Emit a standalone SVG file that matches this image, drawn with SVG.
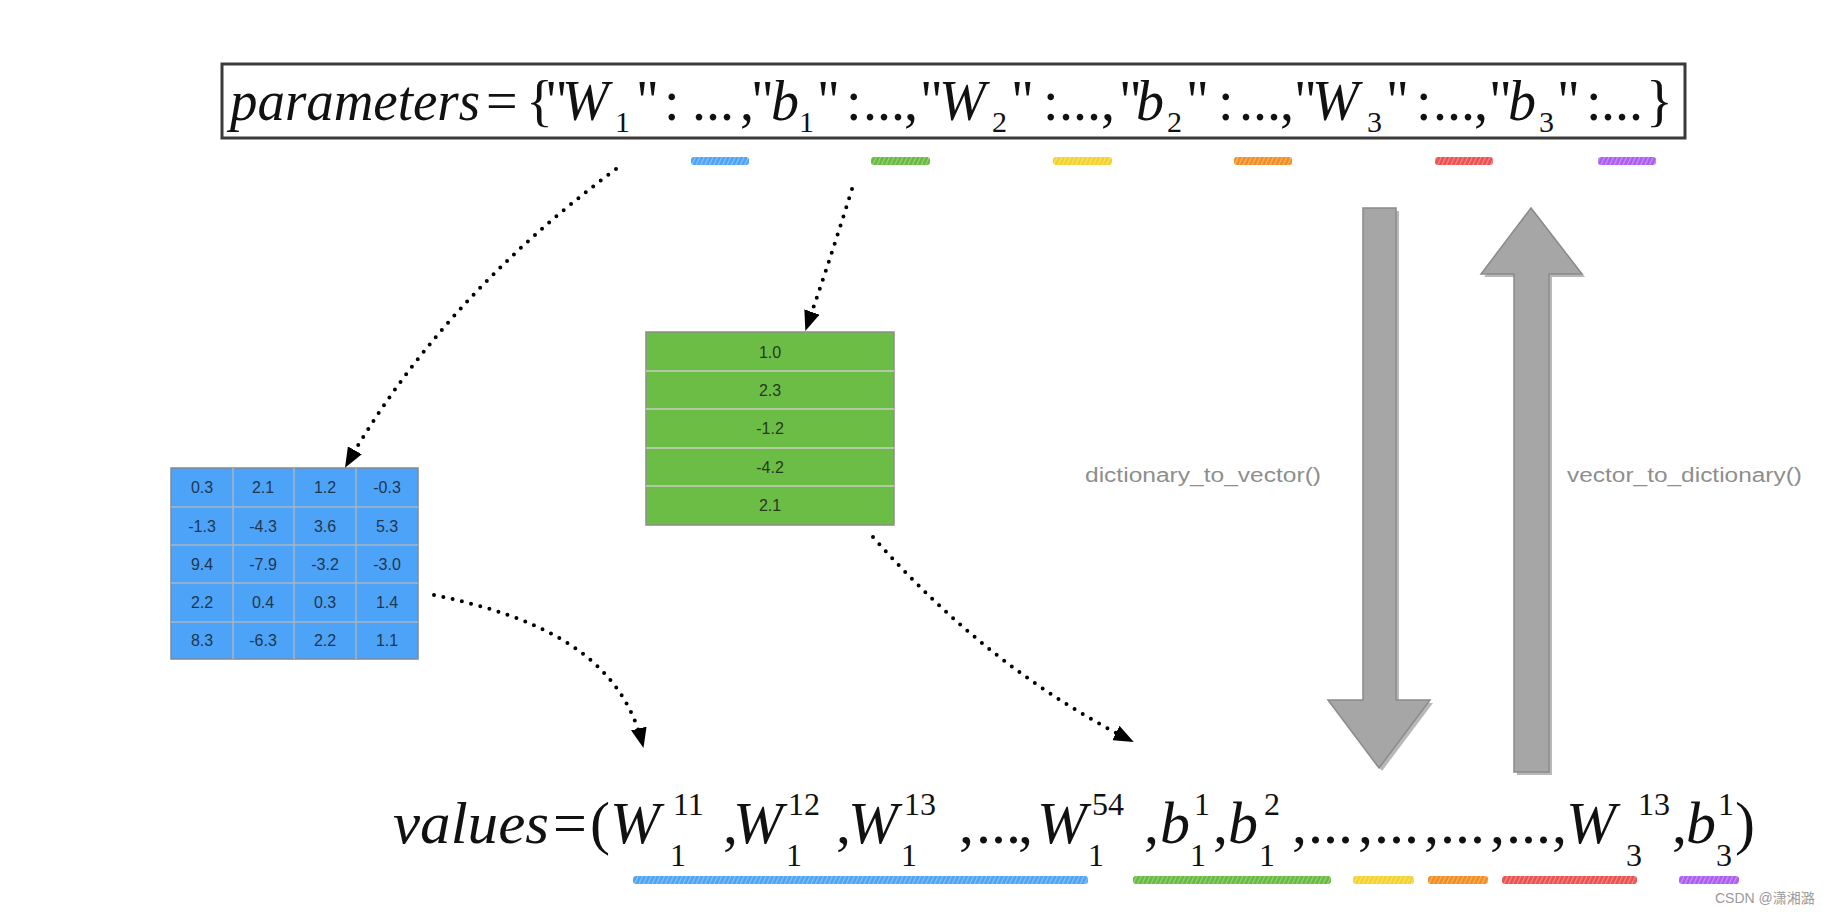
<svg xmlns="http://www.w3.org/2000/svg" width="1829" height="915" viewBox="0 0 1829 915">
<style>
.m{font-family:"Liberation Serif","Times New Roman",serif;fill:#111}
.i{font-style:italic}
.p{font-size:56px}
.v{font-size:60px}
.s{font-size:30px}
.ss{font-size:32px}
.cell{font-family:"Liberation Sans",Arial,sans-serif;font-size:16px;text-anchor:middle}
.bt{fill:#1f3650}
.gt{fill:#27391d}
.lbl{font-family:"Liberation Sans",Arial,sans-serif;font-size:20px;fill:#8e8e8e}
.dots{fill:none;stroke:#000;stroke-width:4;stroke-linecap:round;stroke-dasharray:0 9.5}
.garrow{fill:#a6a6a6;stroke:#8a8a8a;stroke-width:1.5}
.gshadow{fill:#7d7d7d;opacity:0.55}
</style>
<defs>
<marker id="ah" viewBox="0 0 20 16" refX="18" refY="8" markerWidth="20" markerHeight="16" markerUnits="userSpaceOnUse" orient="auto">
<path d="M0,0 L20,8 L0,16 Z" fill="#000"/>
</marker>
<pattern id="scr" width="4" height="10" patternUnits="userSpaceOnUse" patternTransform="rotate(25)">
<rect width="1.2" height="10" fill="#fff" opacity="0.35"/>
</pattern>
</defs>
<rect width="1829" height="915" fill="#fff"/>

<g id="parameters">
<rect x="222" y="64" width="1463" height="74" fill="#fff" stroke="#3a3a3a" stroke-width="3"/>
<text class="m i p" x="230" y="120" textLength="250" lengthAdjust="spacingAndGlyphs">parameters</text>
<text class="m p" y="120">
<tspan x="486">=</tspan><tspan x="526">{</tspan><tspan x="545">"</tspan><tspan class="i" x="562">W</tspan><tspan x="636">"</tspan><tspan x="664">:</tspan><tspan x="692">...</tspan><tspan x="740">,</tspan>
<tspan x="751">"</tspan><tspan class="i" x="771">b</tspan><tspan x="817">"</tspan><tspan x="846">:</tspan><tspan x="863">...</tspan><tspan x="904">,</tspan>
<tspan x="920">"</tspan><tspan class="i" x="939">W</tspan><tspan x="1011">"</tspan><tspan x="1043">:</tspan><tspan x="1059">...</tspan><tspan x="1101">,</tspan>
<tspan x="1119">"</tspan><tspan class="i" x="1136">b</tspan><tspan x="1186">"</tspan><tspan x="1218">:</tspan><tspan x="1239">...</tspan><tspan x="1280">,</tspan>
<tspan x="1294">"</tspan><tspan class="i" x="1312">W</tspan><tspan x="1386">"</tspan><tspan x="1416">:</tspan><tspan x="1433">...</tspan><tspan x="1474">,</tspan>
<tspan x="1489">"</tspan><tspan class="i" x="1508">b</tspan><tspan x="1557">"</tspan><tspan x="1586">:</tspan><tspan x="1601">...</tspan><tspan x="1646">}</tspan>
</text>
<text class="m s" y="132"><tspan x="615">1</tspan><tspan x="799">1</tspan><tspan x="992">2</tspan><tspan x="1167">2</tspan><tspan x="1367">3</tspan><tspan x="1539">3</tspan></text>
</g>

<g id="param-marks">
<rect x="691" y="157" width="58" height="8" rx="3" fill="#4da3f5"/>
<rect x="871" y="157" width="59" height="8" rx="3" fill="#68b93f"/>
<rect x="1053" y="157" width="59" height="8" rx="3" fill="#f3d22a"/>
<rect x="1234" y="157" width="58" height="8" rx="3" fill="#f28d22"/>
<rect x="1435" y="157" width="58" height="8" rx="3" fill="#ec5151"/>
<rect x="1598" y="157" width="58" height="8" rx="3" fill="#ad5cf0"/>
<g fill="url(#scr)">
<rect x="691" y="157" width="58" height="8"/><rect x="871" y="157" width="59" height="8"/><rect x="1053" y="157" width="59" height="8"/><rect x="1234" y="157" width="58" height="8"/><rect x="1435" y="157" width="58" height="8"/><rect x="1598" y="157" width="58" height="8"/>
</g>
</g>

<g id="matrix-W1">
<rect x="171" y="468" width="247" height="191" fill="#4da3f7" stroke="#7f8a96" stroke-width="1.5"/>
<g stroke="#a9b4c0" stroke-width="1.5">
<line x1="233" y1="468" x2="233" y2="659"/><line x1="294" y1="468" x2="294" y2="659"/><line x1="356" y1="468" x2="356" y2="659"/>
<line x1="171" y1="507" x2="418" y2="507"/><line x1="171" y1="545" x2="418" y2="545"/><line x1="171" y1="583" x2="418" y2="583"/><line x1="171" y1="622" x2="418" y2="622"/>
</g>
<g class="cell bt">
<text x="202" y="493">0.3</text><text x="263" y="493">2.1</text><text x="325" y="493">1.2</text><text x="387" y="493">-0.3</text>
<text x="202" y="532">-1.3</text><text x="263" y="532">-4.3</text><text x="325" y="532">3.6</text><text x="387" y="532">5.3</text>
<text x="202" y="570">9.4</text><text x="263" y="570">-7.9</text><text x="325" y="570">-3.2</text><text x="387" y="570">-3.0</text>
<text x="202" y="608">2.2</text><text x="263" y="608">0.4</text><text x="325" y="608">0.3</text><text x="387" y="608">1.4</text>
<text x="202" y="646">8.3</text><text x="263" y="646">-6.3</text><text x="325" y="646">2.2</text><text x="387" y="646">1.1</text>
</g>
</g>

<g id="vector-b1">
<rect x="646" y="332" width="248" height="193" fill="#6cbd45" stroke="#8a8f86" stroke-width="1.5"/>
<g stroke="#c9cfc4" stroke-width="1.5">
<line x1="646" y1="371" x2="894" y2="371"/><line x1="646" y1="409" x2="894" y2="409"/><line x1="646" y1="448" x2="894" y2="448"/><line x1="646" y1="486" x2="894" y2="486"/>
</g>
<g class="cell gt">
<text x="770" y="358">1.0</text><text x="770" y="396">2.3</text><text x="770" y="434">-1.2</text><text x="770" y="473">-4.2</text><text x="770" y="511">2.1</text>
</g>
</g>

<g id="connectors">
<path class="dots" d="M616,169 Q440,300 346,466" marker-end="url(#ah)"/>
<path class="dots" d="M852,189 Q830,260 806,329" marker-end="url(#ah)"/>
<path class="dots" d="M434,595 C530,615 620,650 643,746" marker-end="url(#ah)"/>
<path class="dots" d="M873,537 Q990,670 1132,741" marker-end="url(#ah)"/>
</g>

<g id="arrow-down">
<path class="gshadow" d="M1366,211 H1399 V703 H1433 L1382,771 L1331,703 H1366 Z"/>
<path class="garrow" d="M1363,208 H1396 V700 H1430 L1379,768 L1328,700 H1363 Z"/>
</g>
<g id="arrow-up">
<path class="gshadow" d="M1534,211 L1585,277 H1552 V775 H1517 V277 H1484 Z"/>
<path class="garrow" d="M1531,208 L1582,274 H1549 V772 H1514 V274 H1481 Z"/>
</g>

<g id="label-d2v"><text class="lbl" x="1085" y="482" textLength="236" lengthAdjust="spacingAndGlyphs">dictionary_to_vector()</text></g>
<g id="label-v2d"><text class="lbl" x="1567" y="482" textLength="235" lengthAdjust="spacingAndGlyphs">vector_to_dictionary()</text></g>

<g id="values">
<text class="m i v" x="393" y="843" textLength="156" lengthAdjust="spacingAndGlyphs">values</text>
<text class="m v" y="843">
<tspan x="553">=</tspan><tspan x="590">(</tspan><tspan class="i" x="610">W</tspan><tspan x="723">,</tspan><tspan class="i" x="733">W</tspan><tspan x="836">,</tspan><tspan class="i" x="848">W</tspan>
<tspan x="959">,</tspan><tspan x="976">...</tspan><tspan x="1018">,</tspan><tspan class="i" x="1037">W</tspan><tspan x="1144">,</tspan><tspan class="i" x="1160">b</tspan><tspan x="1213">,</tspan><tspan class="i" x="1228">b</tspan>
<tspan x="1292">,</tspan><tspan x="1308">...</tspan><tspan x="1358">,</tspan><tspan x="1374">...</tspan><tspan x="1424">,</tspan><tspan x="1440">...</tspan><tspan x="1490">,</tspan><tspan x="1506">...</tspan><tspan x="1552">,</tspan>
<tspan class="i" x="1566">W</tspan><tspan x="1672">,</tspan><tspan class="i" x="1686">b</tspan><tspan x="1735">)</tspan>
</text>
<text class="m ss" y="815"><tspan x="673">11</tspan><tspan x="788">12</tspan><tspan x="904">13</tspan><tspan x="1092">54</tspan><tspan x="1194">1</tspan><tspan x="1264">2</tspan><tspan x="1638">13</tspan><tspan x="1718">1</tspan></text>
<text class="m ss" y="866"><tspan x="670">1</tspan><tspan x="786">1</tspan><tspan x="901">1</tspan><tspan x="1088">1</tspan><tspan x="1190">1</tspan><tspan x="1259">1</tspan><tspan x="1626">3</tspan><tspan x="1716">3</tspan></text>
</g>

<g id="value-marks">
<rect x="633" y="876" width="455" height="8" rx="3" fill="#4da3f5"/>
<rect x="1133" y="876" width="198" height="8" rx="3" fill="#68b93f"/>
<rect x="1353" y="876" width="61" height="8" rx="3" fill="#f3d22a"/>
<rect x="1428" y="876" width="60" height="8" rx="3" fill="#f28d22"/>
<rect x="1502" y="876" width="135" height="8" rx="3" fill="#ec5151"/>
<rect x="1679" y="876" width="60" height="8" rx="3" fill="#ad5cf0"/>
<g fill="url(#scr)">
<rect x="633" y="876" width="455" height="8"/><rect x="1133" y="876" width="198" height="8"/><rect x="1353" y="876" width="61" height="8"/><rect x="1428" y="876" width="60" height="8"/><rect x="1502" y="876" width="135" height="8"/><rect x="1679" y="876" width="60" height="8"/>
</g>
</g>

<g id="watermark"><text x="1715" y="903" font-family="'Liberation Sans','Noto Sans CJK SC',sans-serif" font-size="14" fill="#9a9a9a">CSDN @潇湘潞</text></g>
</svg>
